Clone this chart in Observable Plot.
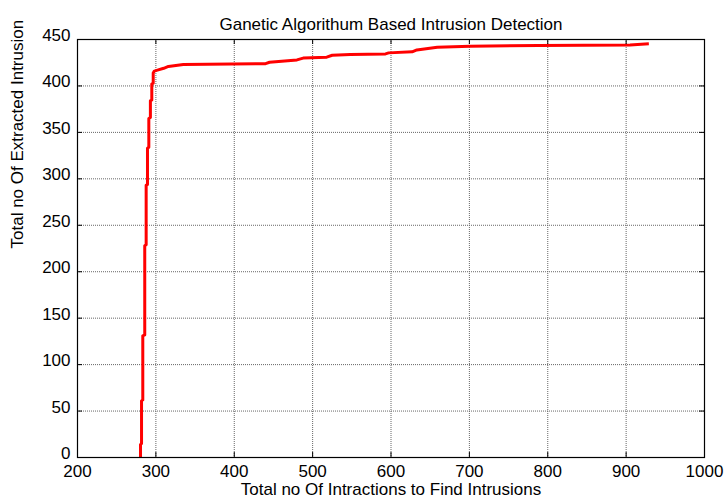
<!DOCTYPE html>
<html>
<head>
<meta charset="utf-8">
<script src="https://cdn.jsdelivr.net/npm/d3@7"></script>
<script src="https://cdn.jsdelivr.net/npm/@observablehq/plot@0.6"></script>
<style>
  html, body { margin: 0; padding: 0; background: #fff; }
</style>
</head>
<body>
<div id="chart"></div>
<script>
const titleText = "Ganetic Algorithum Based Intrusion Detection";
const xLabelText = "Total no Of Intractions to Find Intrusions";
const yLabelText = "Total no Of Extracted Intrusion";

const xTicks = [200, 300, 400, 500, 600, 700, 800, 900, 1000];
const yTicks = [0, 50, 100, 150, 200, 250, 300, 350, 400, 450];

// interactions (x) vs extracted intrusions (y)
const interactions = [280.4, 280.4, 281.7, 281.7, 283.3, 283.3, 285.8, 285.8, 287.6, 287.6,
  289.3, 289.3, 291, 291, 293, 293, 294.8, 294.8, 296.6, 296.6,
  298, 302, 310, 316, 335, 440, 445, 480, 488, 518,
  525, 548, 593, 597, 627, 633, 659, 701, 788, 905, 929];
const intrusions = [0, 14, 15, 61, 62, 131, 132, 228, 229, 293,
  294, 333, 334, 365, 366, 384, 385, 402, 403, 414,
  416, 417, 419, 421, 423, 424, 425.5, 428, 430, 431,
  433, 433.8, 434.5, 435.6, 436.7, 438.8, 441.7, 442.8, 443.5, 444.2, 445.3];

const rows = interactions.map((x, i) => ({x, y: intrusions[i]}));

const W = 726, H = 502, mL = 77, mR = 22, mT = 39, mB = 45;
const plotW = W - mL - mR, plotH = H - mT - mB;
const tickLen = 5;
const fs = 17;

const chart = Plot.plot({
  width: W,
  height: H,
  marginLeft: mL,
  marginRight: mR,
  marginTop: mT,
  marginBottom: mB,
  style: {fontFamily: "'Liberation Sans', Arial, sans-serif", fontSize: fs + "px", color: "#000", background: "#fff"},
  x: {domain: [200, 1000]},
  y: {domain: [0, 450]},
  marks: [
    Plot.gridX(xTicks, {stroke: "#666", strokeOpacity: 1, strokeDasharray: "1,1"}),
    Plot.gridY(yTicks, {stroke: "#666", strokeOpacity: 1, strokeDasharray: "1,1"}),
    Plot.line(rows, {x: "x", y: "y", stroke: "#ff0000", strokeWidth: 3, strokeLinejoin: "round", strokeLinecap: "butt"}),
    Plot.tickX(xTicks, {x: d => d, stroke: "#000", insetTop: plotH - tickLen}),
    Plot.tickX(xTicks, {x: d => d, stroke: "#000", insetBottom: plotH - tickLen}),
    Plot.tickY(yTicks, {y: d => d, stroke: "#000", insetRight: plotW - tickLen}),
    Plot.tickY(yTicks, {y: d => d, stroke: "#000", insetLeft: plotW - tickLen}),
    Plot.frame({stroke: "#000", strokeWidth: 1.2}),
    Plot.axisX(xTicks, {anchor: "bottom", tickSize: 0, tickPadding: 7, label: null, fontSize: fs, tickFormat: d3.format("d")}),
    Plot.axisY(yTicks, {anchor: "left", tickSize: 0, tickPadding: 7, label: null, fontSize: fs, tickFormat: d3.format("d"), dy: -4}),
    Plot.text([titleText], {text: d => d, frameAnchor: "top", dy: -22, fontSize: fs}),
    Plot.text([xLabelText], {text: d => d, frameAnchor: "bottom", dy: 37, fontSize: fs}),
    Plot.text([yLabelText], {text: d => d, frameAnchor: "left", dx: -60, rotate: -90, fontSize: fs})
  ]
});
document.getElementById("chart").appendChild(chart);
</script>
</body>
</html>
